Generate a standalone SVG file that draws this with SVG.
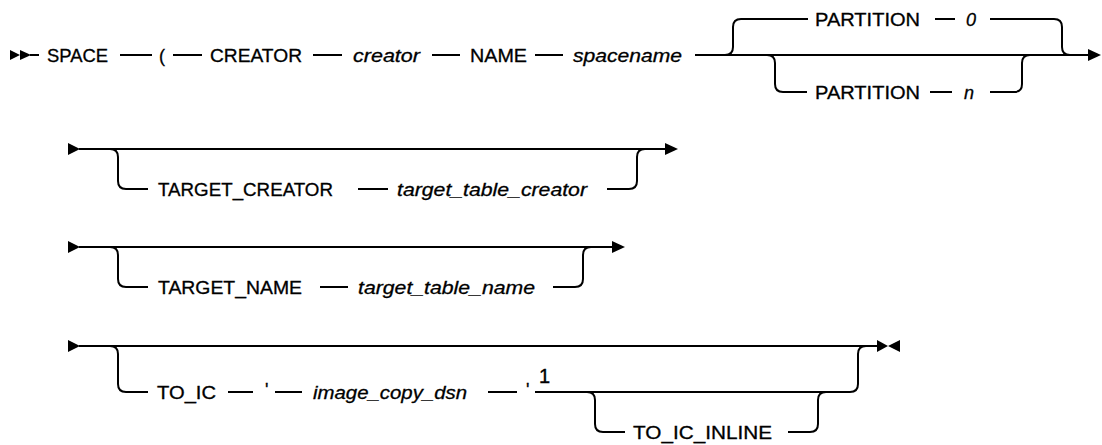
<svg xmlns="http://www.w3.org/2000/svg" width="1102" height="445" viewBox="0 0 1102 445">
<style>
.r{fill:none;stroke:#000;stroke-width:2}
.k{font-family:"Liberation Sans",Arial,sans-serif;font-size:18px;fill:#000;stroke:#000;stroke-width:0.3}
.v{font-family:"Liberation Sans",Arial,sans-serif;font-size:18px;font-style:italic;fill:#000;stroke:#000;stroke-width:0.3}
.s{font-family:"Liberation Sans",Arial,sans-serif;font-size:20px;fill:#000;stroke:#000;stroke-width:0.4}
.h{fill:#000}
</style>
<rect width="1102" height="445" fill="#fff"/>
<g id="connectors">
  <polygon class="h" points="10,50 20,55 10,60"/>
  <polygon class="h" points="20,50 31,55 20,60"/>
  <path class="r" d="M30 55H39M120 55H152M173 55H202M313 55H342M432 55H460M535 55H563M695 55H1089"/>
  <path class="r" d="M725 55Q733 55 733 47V27Q733 19 741 19H808M935 19H955M990 19H1054Q1062 19 1062 27V47Q1062 55 1070 55"/>
  <path class="r" d="M767 55Q775 55 775 63V84Q775 92 783 92H807M930 92H952M990 92H1014Q1022 92 1022 84V63Q1022 55 1030 55"/>
  <polygon class="h" points="1088,49 1101,55 1088,61"/>
  <polygon class="h" points="68,143 80,149 68,155"/>
  <path class="r" d="M79 149H666M110 149Q118 149 118 157V181Q118 189 126 189H148M358 189H388M607 189H629Q637 189 637 181V157Q637 149 645 149"/>
  <polygon class="h" points="665,143 678,149 665,155"/>
  <polygon class="h" points="68,241 80,247 68,253"/>
  <path class="r" d="M79 247H613M110 247Q118 247 118 255V279Q118 287 126 287H148M320 287H348M553 287H575Q583 287 583 279V255Q583 247 591 247"/>
  <polygon class="h" points="612,241 625,247 612,253"/>
  <polygon class="h" points="68,340 80,346 68,352"/>
  <path class="r" d="M79 346H878M110 346Q118 346 118 354V384Q118 392 126 392H148M228 392H253M275 392H302M488 392H517M535 392H850Q858 392 858 384V354Q858 346 866 346"/>
  <path class="r" d="M587 392Q595 392 595 400V424Q595 432 603 432H625M788 432H810Q818 432 818 424V400Q818 392 826 392"/>
  <polygon class="h" points="877,340 888,346 877,352"/>
  <polygon class="h" points="900,340 888,346 900,352"/>
</g>
<g id="node-space"><text class="k" x="47" y="62" textLength="61" lengthAdjust="spacingAndGlyphs">SPACE</text></g>
<g id="node-paren"><text class="k" x="159" y="62">(</text></g>
<g id="node-creator-kw"><text class="k" x="210" y="62" textLength="92" lengthAdjust="spacingAndGlyphs">CREATOR</text></g>
<g id="node-creator"><text class="v" x="353" y="62" textLength="67" lengthAdjust="spacingAndGlyphs">creator</text></g>
<g id="node-name-kw"><text class="k" x="470" y="62" textLength="57" lengthAdjust="spacingAndGlyphs">NAME</text></g>
<g id="node-spacename"><text class="v" x="573" y="62" textLength="109" lengthAdjust="spacingAndGlyphs">spacename</text></g>
<g id="node-partition0">
  <text class="k" x="815" y="26" textLength="105" lengthAdjust="spacingAndGlyphs">PARTITION</text>
  <text class="v" x="966" y="26">0</text>
</g>
<g id="node-partitionn">
  <text class="k" x="815" y="99" textLength="105" lengthAdjust="spacingAndGlyphs">PARTITION</text>
  <text class="v" x="964" y="99">n</text>
</g>
<g id="node-target-creator">
  <text class="k" x="158" y="196" textLength="175" lengthAdjust="spacingAndGlyphs">TARGET_CREATOR</text>
  <text class="v" x="397" y="196" textLength="190" lengthAdjust="spacingAndGlyphs">target_table_creator</text>
</g>
<g id="node-target-name">
  <text class="k" x="158" y="294" textLength="144" lengthAdjust="spacingAndGlyphs">TARGET_NAME</text>
  <text class="v" x="358" y="294" textLength="177" lengthAdjust="spacingAndGlyphs">target_table_name</text>
</g>
<g id="node-to-ic">
  <text class="k" x="157" y="399" textLength="59" lengthAdjust="spacingAndGlyphs">TO_IC</text>
  <text class="k" x="265" y="396">'</text>
  <text class="v" x="313" y="399" textLength="154" lengthAdjust="spacingAndGlyphs">image_copy_dsn</text>
  <text class="k" x="526" y="396">'</text>
  <text class="s" x="539" y="383">1</text>
</g>
<g id="node-to-ic-inline"><text class="k" x="633" y="439" textLength="139" lengthAdjust="spacingAndGlyphs">TO_IC_INLINE</text></g>
</svg>
